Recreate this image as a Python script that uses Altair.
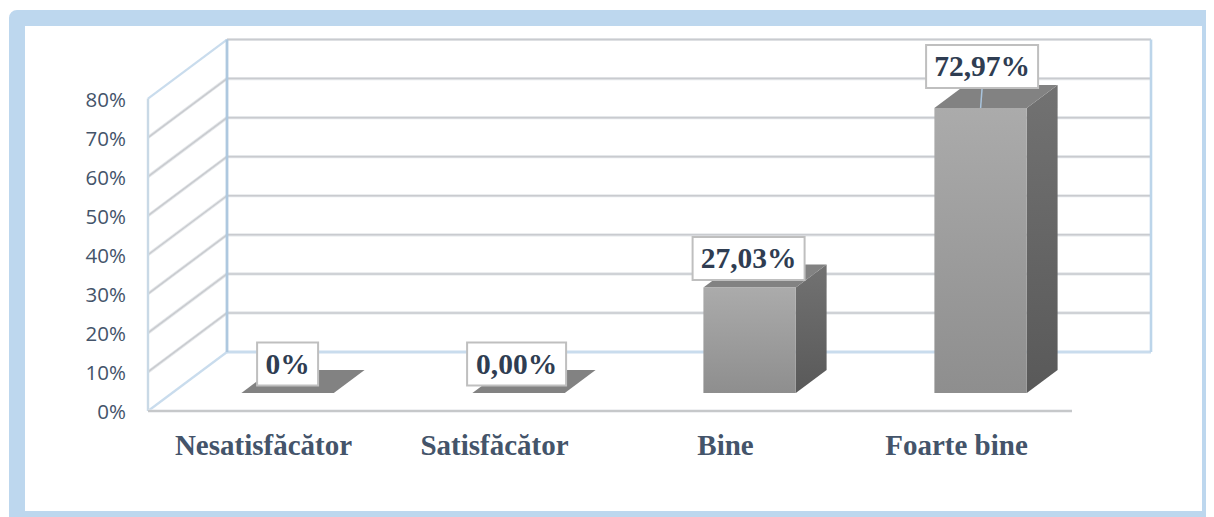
import altair as alt
import pandas as pd

# ---- chart values -------------------------------------------------------
categories = ["Nesatisfăcător", "Satisfăcător", "Bine", "Foarte bine"]
values = [0.0, 0.0, 27.03, 72.97]
value_labels = ["0%", "0,00%", "27,03%", "72,97%"]
tick_values = [0, 10, 20, 30, 40, 50, 60, 70, 80]
tick_labels = ["0%", "10%", "20%", "30%", "40%", "50%", "60%", "70%", "80%"]

# ---- geometry of the pseudo-3D projection ------------------------------
W, H = 1198, 509
PX_CAT, PX_PCT = 231.0, 3.906
ORIGIN_X, ORIGIN_Y = 140.0, 403.0      # plot-space pixel of category 0 / 0 %
DX, DY = 79 / PX_CAT, 59 / PX_PCT      # shift of one full unit of depth
N = len(categories)
BAR_W = 0.40
D0, D1 = 0.305, 0.695                  # depth span of every bar

x_scale = alt.Scale(domain=[-ORIGIN_X / PX_CAT, (W - ORIGIN_X) / PX_CAT], range=[0, W], nice=False, zero=False)
y_scale = alt.Scale(domain=[-(H - ORIGIN_Y) / PX_PCT, ORIGIN_Y / PX_PCT], range=[H, 0], nice=False, zero=False)
X = lambda f: alt.X(f, type="quantitative", scale=x_scale, axis=None)
Y = lambda f: alt.Y(f, type="quantitative", scale=y_scale, axis=None)
X2 = lambda f: alt.X2(f)
Y2 = lambda f: alt.Y2(f)

def seg(layer_rows, color, width):
    return alt.Chart(pd.DataFrame(layer_rows)).mark_rule(color=color, strokeWidth=width).encode(
        x=X("x"), x2=X2("x2"), y=Y("y"), y2=Y2("y2"))

def px_x(p):
    return p / PX_CAT

def px_y(p):
    return p / PX_PCT

TOP = tick_values[-1]
# frame
frame = alt.Chart(pd.DataFrame([{
    "x": px_x(-131), "x2": px_x(1062), "y": px_y(393), "y2": -px_y(108)}])).mark_rect(
    fill="white", stroke="#bdd7ee", strokeWidth=16, strokeJoin="round").encode(
    x=X("x"), x2=X2("x2"), y=Y("y"), y2=Y2("y2"))

# walls
grid_rows, diag_rows = [], []
for t in tick_values[1:-1]:
    grid_rows.append({"x": DX, "x2": N + DX, "y": t + DY, "y2": t + DY})
    diag_rows.append({"x": 0, "x2": DX, "y": t, "y2": t + DY})
grid_rows.append({"x": DX, "x2": N + DX, "y": TOP + DY, "y2": TOP + DY})
walls = [
    seg(grid_rows + diag_rows, "#e4e7ea", 3.2),
    seg(grid_rows + diag_rows, "#c9cbcf", 1.5),
    seg([{"x": DX, "x2": N + DX, "y": DY, "y2": DY}], "#c9dced", 2.8),
    seg([{"x": 0, "x2": DX, "y": 0, "y2": DY}, {"x": 0, "x2": DX, "y": TOP, "y2": TOP + DY}], "#c9dced", 2.2),
    seg([{"x": 0, "x2": 0, "y": 0, "y2": TOP}], "#c9d9e6", 2.4),
    seg([{"x": DX, "x2": DX, "y": DY, "y2": TOP + DY}], "#aec8df", 2.8),
    seg([{"x": N + DX, "x2": N + DX, "y": DY, "y2": TOP + DY}], "#bcd5ea", 2.6),
    seg([{"x": 0, "x2": N, "y": 0, "y2": 0}], "#e2e4e7", 3.2),
    seg([{"x": 0, "x2": N, "y": 0, "y2": 0}], "#c6c8ca", 1.8),
]

# bars
centers = [i + 0.5 for i in range(N)]
def lin(c0, c1):
    return alt.Gradient(gradient="linear", x1=0, x2=0, y1=0, y2=1,
                        stops=[alt.GradientStop(color=c0, offset=0), alt.GradientStop(color=c1, offset=1)])

front_rows, side_rows, top_rows = [], [], []
for cat, c, v in zip(categories, centers, values):
    l, r = c - BAR_W / 2, c + BAR_W / 2
    if v > 0:
        front_rows.append({"cat": cat, "x": l + D0 * DX, "x2": r + D0 * DX, "y": v + D0 * DY, "y2": D0 * DY})
        for d in (D0, D1):
            side_rows.append({"cat": cat, "x": r + d * DX, "y": v + d * DY, "y2": d * DY})
    for d in (D0, D1):
        top_rows.append({"cat": cat, "y": v + d * DY, "x": l + d * DX, "x2": r + d * DX})

side = alt.Chart(pd.DataFrame(side_rows)).mark_area(
    color=lin("#727272", "#595959"), line=False).encode(x=X("x"), y=Y("y"), y2=Y2("y2"), detail="cat:N")
top = alt.Chart(pd.DataFrame(top_rows)).mark_area(orient="horizontal", color="#828282").encode(
    y=Y("y"), x=X("x"), x2=X2("x2"), detail="cat:N")
front = alt.Chart(pd.DataFrame(front_rows)).mark_rect(
    color=lin("#ababab", "#8e8e8e")).encode(x=X("x"), x2=X2("x2"), y=Y("y"), y2=Y2("y2"))

# data labels
box_w_px = [61, 99, 112, 112]
raise_px = [29, 29, 29, 41.5]
box_h_px = 43
shift_px = [0, -2, -1, 1.5]
box_rows, text_rows, leader_rows = [], [], []
for c, v, lab, bw, rp, sh in zip(centers, values, value_labels, box_w_px, raise_px, shift_px):
    cx = c + D0 * DX + px_x(sh)
    cy = v + D0 * DY + px_y(rp)
    box_rows.append({"x": cx - px_x(bw / 2), "x2": cx + px_x(bw / 2), "y": cy + px_y(box_h_px / 2), "y2": cy - px_y(box_h_px / 2)})
    text_rows.append({"x": cx, "y": cy, "t": lab})
    if rp > 30:
        leader_rows.append({"x": cx, "x2": c + D0 * DX, "y": cy - px_y(box_h_px / 2), "y2": v + D0 * DY})

leader = seg(leader_rows, "#a9c4dd", 1.5)
boxes = alt.Chart(pd.DataFrame(box_rows)).mark_rect(fill="white", stroke="#bfbfbf", strokeWidth=2).encode(
    x=X("x"), x2=X2("x2"), y=Y("y"), y2=Y2("y2"))
box_text = alt.Chart(pd.DataFrame(text_rows)).mark_text(
    font="Liberation Serif", fontWeight="bold", fontSize=29.5, color="#2f3d52", baseline="middle", align="center", dy=1).encode(
    x=X("x"), y=Y("y"), text="t:N")

# axis texts
y_text = alt.Chart(pd.DataFrame({"x": [px_x(-22)] * len(tick_values), "y": tick_values, "t": tick_labels})).mark_text(
    font="Open Sans", fontSize=20.5, color="#44546a", align="right", baseline="middle", dy=2).encode(
    x=X("x"), y=Y("y"), text="t:N")
x_text = alt.Chart(pd.DataFrame({"x": centers, "y": [-px_y(35)] * N, "t": categories})).mark_text(
    font="Liberation Serif", fontWeight="bold", fontSize=29, color="#44546a", align="center", baseline="middle").encode(
    x=X("x"), y=Y("y"), text="t:N")

chart = alt.layer(frame, *walls, side, top, front, leader, boxes, box_text, y_text, x_text).properties(
    width=W, height=H, padding=0, background="white",
    autosize=alt.AutoSizeParams(type="none")).configure_view(stroke=None)

chart.save("out.html", embed_options={"renderer": "svg", "actions": False})
